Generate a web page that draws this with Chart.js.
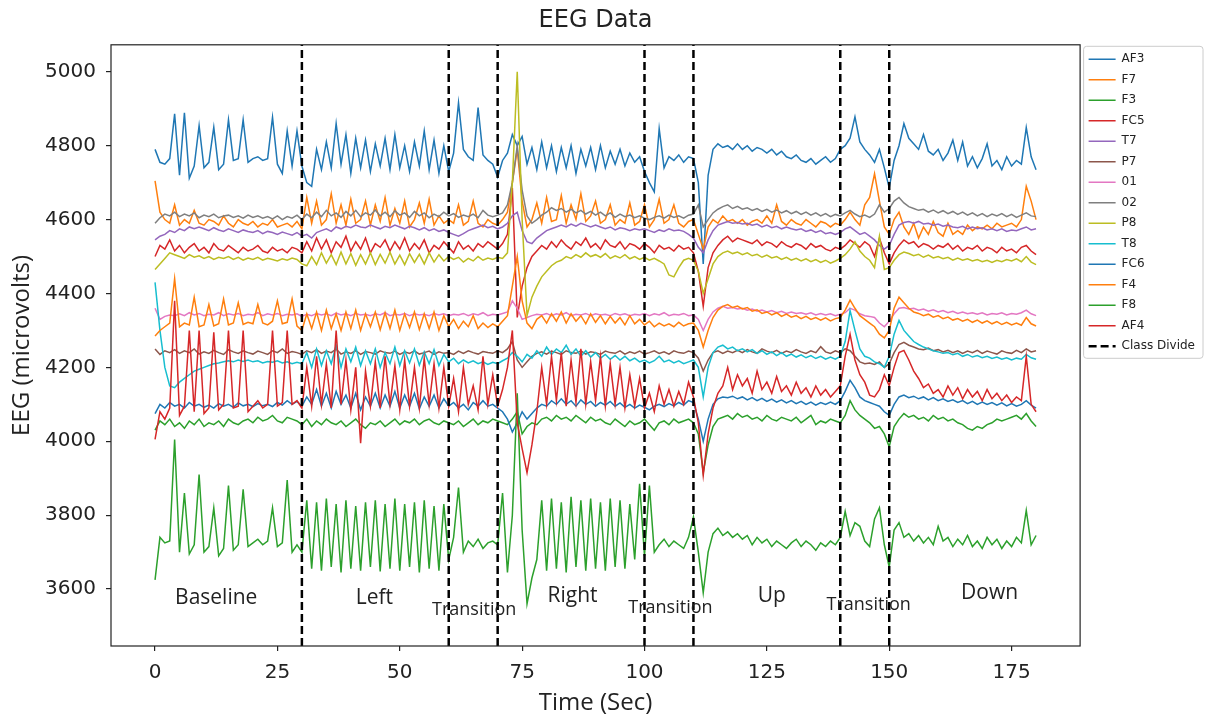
<!DOCTYPE html>
<html>
<head>
<meta charset="utf-8">
<title>EEG Data</title>
<script src="https://cdn.jsdelivr.net/npm/chart.js@4.4.1/dist/chart.umd.min.js"></script>
<style>
  html, body { margin: 0; padding: 0; background: #fff; }
  #wrap { width: 1215px; height: 719px; }
</style>
</head>
<body>
<div id="wrap"><canvas id="eegChart" width="1215" height="719"></canvas></div>
<script>
// channels in legend order
const channels = ['AF3', 'F7', 'F3', 'FC5', 'T7', 'P7', '01', '02', 'P8', 'T8', 'FC6', 'F4', 'F8', 'AF4'];
const channelColors = ['#1f77b4', '#ff7f0e', '#2ca02c', '#d62728', '#9467bd', '#8c564b', '#e377c2',
                       '#7f7f7f', '#bcbd22', '#17becf', '#1f77b4', '#ff7f0e', '#2ca02c', '#d62728'];

// one reading per second, 0..180 s
const seconds = Array.from({ length: 181 }, (_, i) => i);

const af3 = [
  4790,4755,4750,4765,4886,4720,4889,4712,4745,4854,
  4740,4755,4850,4735,4750,4870,4760,4765,4870,4755,
  4765,4770,4760,4765,4877,4750,4725,4840,4745,4840,
  4745,4700,4690,4790,4735,4810,4740,4860,4750,4830,
  4725,4820,4740,4815,4730,4805,4745,4820,4735,4830,
  4740,4800,4730,4810,4745,4840,4735,4815,4725,4800,
  4730,4780,4916,4790,4770,4760,4903,4775,4760,4750,
  4715,4760,4780,4830,4800,4825,4750,4795,4735,4810,
  4740,4800,4730,4795,4740,4800,4725,4790,4745,4795,
  4735,4800,4740,4785,4750,4790,4745,4780,4755,4770,
  4730,4700,4675,4846,4740,4770,4760,4775,4755,4770,
  4765,4700,4480,4720,4790,4805,4795,4800,4790,4805,
  4790,4800,4785,4795,4790,4780,4790,4775,4785,4770,
  4765,4775,4760,4755,4765,4750,4760,4770,4755,4765,
  4790,4800,4820,4878,4810,4790,4775,4755,4790,4740,
  4686,4760,4800,4860,4820,4805,4790,4830,4785,4775,
  4790,4760,4780,4815,4760,4810,4745,4770,4740,4765,
  4805,4745,4760,4735,4770,4745,4760,4750,4849,4770,
  4735
];
const f7 = [
  4705,4620,4600,4590,4640,4585,4600,4590,4625,4590,
  4585,4600,4595,4585,4610,4590,4580,4600,4590,4585,
  4595,4580,4590,4585,4600,4580,4585,4590,4580,4595,
  4575,4660,4590,4650,4585,4600,4670,4590,4640,4585,
  4655,4590,4600,4650,4585,4640,4595,4660,4585,4630,
  4590,4650,4580,4600,4645,4590,4655,4585,4610,4590,
  4600,4590,4640,4585,4595,4650,4590,4580,4600,4590,
  4585,4600,4620,4700,4790,4650,4580,4600,4645,4590,
  4660,4595,4600,4665,4590,4640,4600,4670,4595,4610,
  4650,4590,4600,4640,4585,4600,4590,4645,4585,4595,
  4640,4580,4600,4655,4590,4600,4640,4590,4580,4595,
  4600,4560,4520,4580,4600,4590,4610,4595,4600,4590,
  4600,4585,4595,4600,4590,4610,4590,4640,4595,4585,
  4600,4590,4585,4600,4590,4580,4595,4590,4580,4590,
  4585,4600,4620,4600,4585,4640,4660,4724,4650,4580,
  4560,4600,4620,4580,4560,4590,4550,4580,4560,4595,
  4565,4555,4590,4560,4570,4560,4585,4570,4580,4575,
  4585,4575,4590,4580,4585,4590,4580,4600,4690,4650,
  4600
];
const f3 = [
  4030,4055,4045,4060,4040,4050,4035,4055,4045,4060,
  4040,4050,4045,4055,4040,4060,4050,4045,4055,4060,
  4050,4065,4055,4060,4070,4055,4050,4065,4060,4055,
  4045,4060,4040,4055,4045,4060,4050,4045,4055,4040,
  4050,4060,4045,4035,4050,4045,4055,4040,4050,4060,
  4045,4055,4050,4060,4045,4055,4060,4050,4045,4055,
  4050,4045,4055,4040,4050,4060,4045,4055,4050,4060,
  4055,4050,4045,4060,4080,4020,4040,4050,4045,4060,
  4065,4055,4070,4060,4065,4055,4070,4060,4050,4065,
  4055,4060,4050,4045,4060,4050,4040,4055,4045,4050,
  4060,4045,4030,4050,4055,4045,4060,4050,4055,4060,
  4050,4020,3915,3990,4040,4060,4065,4070,4060,4075,
  4065,4070,4060,4065,4055,4070,4060,4055,4065,4060,
  4055,4065,4050,4060,4070,4045,4055,4050,4060,4055,
  4050,4070,4110,4085,4070,4060,4050,4035,4040,4020,
  3985,4040,4060,4075,4065,4070,4060,4065,4055,4070,
  4060,4065,4055,4060,4050,4045,4035,4030,4040,4035,
  4045,4050,4060,4055,4060,4065,4070,4060,4075,4055,
  4040
];
const fc5 = [
  4500,4530,4520,4545,4515,4530,4510,4525,4535,4515,
  4525,4510,4535,4520,4515,4530,4520,4510,4525,4515,
  4520,4530,4515,4510,4525,4515,4520,4510,4525,4520,
  4510,4540,4515,4550,4520,4545,4510,4540,4525,4555,
  4515,4540,4520,4550,4510,4535,4525,4545,4515,4540,
  4520,4550,4515,4535,4520,4545,4510,4530,4520,4540,
  4525,4510,4540,4520,4530,4515,4535,4525,4540,4530,
  4520,4535,4560,4686,4335,4420,4470,4500,4515,4530,
  4520,4540,4525,4545,4530,4520,4540,4530,4550,4525,
  4535,4520,4545,4530,4525,4540,4520,4535,4530,4520,
  4535,4525,4510,4530,4520,4525,4515,4530,4520,4525,
  4510,4460,4365,4470,4510,4530,4545,4555,4540,4550,
  4545,4540,4535,4545,4530,4540,4535,4525,4540,4530,
  4525,4535,4530,4520,4535,4525,4530,4520,4515,4525,
  4520,4530,4545,4535,4525,4540,4530,4500,4550,4510,
  4480,4510,4530,4545,4535,4540,4525,4535,4530,4520,
  4530,4525,4535,4520,4530,4515,4525,4520,4530,4515,
  4525,4520,4510,4525,4515,4520,4510,4525,4530,4515,
  4505
];
const t7 = [
  4545,4555,4560,4570,4565,4575,4570,4580,4575,4580,
  4575,4570,4578,4572,4568,4575,4570,4565,4572,4568,
  4565,4570,4562,4568,4565,4560,4566,4562,4558,4565,
  4555,4560,4550,4565,4570,4575,4568,4580,4575,4582,
  4578,4585,4580,4578,4585,4580,4575,4582,4578,4585,
  4580,4575,4582,4578,4572,4578,4570,4575,4568,4572,
  4565,4560,4555,4562,4570,4575,4580,4585,4578,4582,
  4575,4580,4590,4610,4620,4570,4540,4535,4550,4560,
  4570,4575,4580,4585,4580,4588,4582,4590,4585,4580,
  4585,4580,4575,4580,4572,4578,4575,4570,4575,4572,
  4575,4570,4565,4572,4568,4575,4570,4572,4568,4560,
  4550,4525,4510,4545,4570,4585,4590,4595,4590,4592,
  4588,4590,4585,4588,4580,4585,4578,4582,4575,4580,
  4575,4572,4575,4568,4572,4565,4570,4562,4565,4560,
  4565,4575,4580,4570,4560,4565,4555,4545,4530,4520,
  4530,4560,4585,4592,4595,4590,4595,4588,4590,4585,
  4588,4582,4585,4580,4578,4582,4575,4580,4575,4578,
  4572,4575,4570,4575,4568,4572,4570,4575,4580,4572,
  4575
];
const p7 = [
  4250,4235,4245,4240,4248,4238,4245,4240,4250,4236,
  4242,4238,4246,4240,4235,4248,4242,4238,4245,4240,
  4236,4244,4240,4235,4245,4240,4250,4238,4243,4240,
  4235,4245,4240,4248,4238,4244,4240,4250,4236,4242,
  4238,4245,4235,4243,4240,4236,4245,4240,4238,4244,
  4235,4242,4238,4245,4236,4240,4244,4235,4242,4238,
  4240,4235,4244,4238,4245,4240,4236,4243,4240,4238,
  4245,4240,4250,4270,4220,4200,4215,4230,4238,4242,
  4236,4244,4240,4235,4245,4240,4238,4245,4236,4242,
  4240,4235,4244,4240,4238,4245,4236,4242,4238,4244,
  4236,4240,4245,4238,4242,4236,4245,4240,4238,4244,
  4240,4225,4190,4220,4240,4245,4238,4244,4240,4246,
  4240,4248,4242,4238,4250,4244,4240,4246,4238,4244,
  4240,4248,4242,4238,4245,4240,4256,4242,4238,4245,
  4240,4250,4245,4230,4215,4210,4212,4208,4215,4200,
  4210,4240,4262,4268,4260,4255,4250,4248,4252,4245,
  4248,4242,4246,4240,4245,4238,4244,4240,4246,4238,
  4244,4240,4236,4245,4240,4238,4246,4240,4250,4242,
  4245
];
const o1 = [
  4360,4330,4338,4342,4340,4345,4340,4348,4342,4346,
  4340,4344,4342,4348,4340,4345,4342,4346,4340,4344,
  4342,4348,4340,4345,4342,4346,4340,4344,4342,4345,
  4338,4344,4340,4346,4342,4345,4340,4347,4342,4345,
  4340,4346,4342,4344,4340,4345,4342,4348,4340,4344,
  4342,4346,4340,4345,4342,4344,4340,4346,4342,4345,
  4340,4344,4342,4346,4340,4345,4342,4348,4340,4344,
  4342,4346,4350,4380,4360,4330,4335,4340,4344,4342,
  4346,4340,4345,4342,4348,4340,4344,4342,4346,4340,
  4345,4342,4344,4340,4346,4342,4345,4340,4344,4342,
  4346,4340,4345,4342,4348,4340,4344,4342,4346,4340,
  4342,4330,4300,4330,4350,4360,4365,4360,4362,4358,
  4360,4355,4358,4352,4355,4350,4354,4348,4352,4346,
  4350,4346,4348,4344,4348,4342,4346,4342,4345,4340,
  4344,4348,4360,4355,4345,4340,4338,4335,4320,4310,
  4325,4345,4360,4362,4358,4360,4355,4358,4352,4356,
  4350,4354,4348,4352,4346,4350,4345,4348,4344,4348,
  4342,4346,4344,4348,4342,4346,4344,4348,4355,4345,
  4340
];
const o2 = [
  4590,4605,4615,4610,4620,4608,4615,4610,4618,4605,
  4612,4608,4615,4605,4610,4612,4606,4610,4604,4612,
  4606,4610,4604,4608,4602,4610,4600,4608,4604,4612,
  4600,4615,4605,4620,4608,4625,4610,4618,4606,4622,
  4610,4625,4608,4618,4612,4626,4610,4620,4608,4624,
  4612,4618,4606,4622,4610,4618,4605,4615,4608,4620,
  4610,4616,4606,4612,4608,4615,4605,4625,4612,4608,
  4612,4618,4640,4700,4800,4680,4610,4590,4600,4612,
  4620,4632,4625,4630,4620,4628,4618,4625,4615,4622,
  4612,4620,4610,4618,4606,4615,4608,4612,4605,4610,
  4604,4600,4606,4610,4604,4612,4606,4610,4604,4612,
  4615,4640,4580,4600,4618,4628,4635,4640,4630,4636,
  4628,4632,4625,4630,4622,4628,4620,4626,4618,4624,
  4616,4622,4614,4620,4612,4618,4610,4616,4608,4614,
  4610,4618,4625,4615,4608,4612,4606,4615,4640,4620,
  4630,4650,4660,4645,4635,4630,4625,4628,4620,4626,
  4618,4624,4616,4622,4614,4620,4612,4618,4610,4616,
  4608,4615,4610,4616,4608,4614,4606,4612,4618,4610,
  4608
];
const p8 = [
  4465,4480,4495,4510,4505,4500,4495,4505,4498,4502,
  4495,4500,4492,4498,4495,4500,4492,4498,4490,4496,
  4492,4498,4490,4495,4492,4488,4494,4490,4496,4492,
  4480,4475,4500,4478,4510,4482,4505,4478,4512,4480,
  4508,4476,4505,4480,4510,4478,4506,4482,4512,4480,
  4504,4478,4508,4484,4506,4480,4510,4485,4505,4488,
  4500,4492,4498,4485,4495,4488,4500,4490,4496,4492,
  4498,4495,4510,4700,5000,4600,4340,4390,4420,4445,
  4460,4475,4485,4490,4500,4495,4505,4498,4510,4500,
  4505,4498,4508,4495,4502,4496,4505,4494,4500,4492,
  4498,4490,4495,4488,4480,4450,4445,4470,4490,4495,
  4490,4460,4400,4440,4480,4500,4510,4515,4508,4512,
  4505,4510,4502,4506,4498,4504,4496,4500,4492,4498,
  4490,4495,4488,4494,4486,4492,4484,4490,4482,4488,
  4495,4505,4520,4540,4515,4500,4490,4470,4555,4465,
  4470,4490,4505,4512,4508,4502,4506,4498,4504,4496,
  4500,4494,4498,4490,4496,4490,4494,4488,4492,4486,
  4490,4484,4490,4486,4492,4488,4494,4486,4500,4485,
  4478
];
const t8 = [
  4430,4300,4200,4150,4145,4160,4170,4180,4190,4195,
  4200,4205,4210,4212,4215,4218,4215,4220,4216,4220,
  4215,4218,4212,4216,4214,4218,4212,4215,4210,4214,
  4210,4240,4200,4250,4205,4245,4210,4260,4200,4250,
  4215,4255,4205,4245,4210,4250,4200,4240,4210,4255,
  4205,4245,4212,4250,4206,4242,4210,4248,4205,4235,
  4215,4225,4210,4220,4212,4218,4210,4215,4208,4214,
  4210,4218,4225,4240,4230,4215,4235,4225,4245,4230,
  4255,4235,4250,4240,4260,4235,4250,4230,4245,4228,
  4240,4225,4235,4222,4232,4220,4230,4218,4225,4215,
  4220,4212,4218,4230,4215,4220,4212,4218,4210,4215,
  4220,4200,4120,4200,4240,4255,4260,4250,4255,4245,
  4250,4242,4248,4238,4245,4235,4242,4232,4240,4230,
  4236,4228,4234,4226,4232,4224,4230,4222,4228,4222,
  4230,4270,4354,4300,4250,4230,4225,4215,4210,4200,
  4230,4290,4327,4300,4285,4270,4262,4255,4250,4245,
  4242,4238,4240,4234,4238,4230,4235,4228,4232,4226,
  4230,4224,4228,4222,4226,4220,4225,4222,4235,4226,
  4222
];
const fc6 = [
  4075,4100,4090,4105,4095,4100,4090,4105,4095,4100,
  4092,4098,4090,4102,4095,4100,4092,4104,4096,4100,
  4094,4102,4096,4100,4094,4105,4098,4110,4100,4108,
  4095,4120,4100,4140,4095,4130,4090,4135,4100,4125,
  4090,4130,4085,4120,4095,4130,4090,4125,4095,4135,
  4090,4125,4095,4130,4088,4120,4095,4125,4090,4115,
  4095,4105,4090,4100,4085,4105,4095,4110,4095,4100,
  4090,4080,4060,4025,4050,4080,4060,4075,4090,4100,
  4095,4110,4100,4115,4100,4110,4095,4112,4100,4108,
  4095,4105,4098,4108,4095,4104,4092,4100,4090,4098,
  4092,4085,4095,4100,4094,4102,4096,4105,4098,4110,
  4105,4060,4000,4060,4100,4115,4120,4118,4122,4115,
  4120,4112,4118,4110,4116,4108,4114,4106,4112,4104,
  4110,4102,4108,4100,4106,4098,4105,4100,4106,4100,
  4110,4135,4165,4145,4120,4110,4105,4100,4095,4080,
  4070,4100,4120,4125,4118,4122,4115,4120,4112,4118,
  4110,4115,4108,4112,4105,4110,4102,4108,4100,4106,
  4100,4105,4098,4104,4096,4102,4095,4100,4110,4098,
  4090
];
const f4 = [
  4285,4300,4310,4320,4440,4310,4320,4315,4390,4310,
  4315,4370,4312,4318,4385,4315,4320,4375,4316,4322,
  4318,4370,4320,4315,4325,4380,4318,4322,4385,4312,
  4300,4345,4305,4350,4300,4355,4305,4345,4300,4350,
  4305,4355,4300,4345,4310,4350,4302,4348,4305,4355,
  4300,4345,4308,4350,4302,4345,4305,4350,4300,4340,
  4310,4330,4305,4325,4310,4340,4305,4320,4308,4318,
  4310,4325,4340,4420,4500,4380,4320,4305,4330,4340,
  4320,4345,4325,4350,4320,4345,4325,4340,4318,4345,
  4322,4340,4318,4338,4320,4335,4315,4340,4318,4330,
  4315,4325,4310,4320,4312,4318,4310,4322,4312,4318,
  4320,4300,4255,4300,4335,4355,4365,4370,4362,4366,
  4358,4362,4352,4356,4346,4350,4342,4348,4338,4344,
  4336,4340,4332,4338,4330,4335,4328,4334,4326,4332,
  4335,4355,4382,4360,4340,4330,4320,4310,4290,4280,
  4300,4360,4390,4375,4360,4350,4346,4340,4344,4336,
  4340,4332,4336,4328,4332,4325,4330,4322,4328,4320,
  4326,4318,4324,4316,4322,4315,4320,4314,4335,4318,
  4312
];
const f8 = [
  3625,3740,3725,3730,4005,3700,3860,3695,3720,3910,
  3700,3715,3820,3690,3710,3880,3705,3720,3870,3715,
  3725,3735,3720,3730,3820,3715,3725,3895,3700,3720,
  3700,3840,3655,3835,3650,3845,3660,3830,3645,3840,
  3655,3825,3650,3835,3660,3840,3648,3830,3655,3845,
  3650,3830,3660,3835,3645,3840,3655,3825,3650,3830,
  3680,3740,3875,3700,3730,3715,3735,3710,3725,3730,
  3720,3860,3645,3800,4130,3760,3560,3630,3680,3840,
  3650,3845,3655,3835,3645,3850,3660,3840,3650,3845,
  3655,3835,3650,3845,3660,3840,3655,3830,3680,3885,
  3690,3880,3700,3720,3735,3715,3730,3720,3710,3740,
  3795,3700,3590,3700,3750,3765,3745,3755,3740,3750,
  3735,3745,3720,3740,3725,3735,3715,3730,3720,3710,
  3725,3735,3715,3730,3720,3705,3725,3715,3730,3720,
  3740,3810,3745,3780,3770,3730,3715,3790,3820,3720,
  3660,3760,3780,3740,3750,3730,3745,3725,3740,3720,
  3770,3730,3740,3715,3735,3720,3745,3715,3730,3710,
  3740,3720,3735,3710,3730,3715,3740,3725,3813,3720,
  3745
];
const af4 = [
  4005,4080,4060,4090,4380,4070,4095,4300,4080,4300,
  4075,4090,4295,4085,4100,4300,4090,4095,4300,4080,
  4095,4110,4090,4100,4300,4095,4105,4300,4100,4110,
  4090,4200,4095,4230,4100,4210,4090,4300,4100,4220,
  4085,4200,3995,4190,4095,4215,4090,4230,4100,4205,
  4085,4220,4095,4200,4090,4225,4100,4210,4090,4200,
  4095,4170,4080,4200,4100,4150,4085,4230,4100,4180,
  4095,4140,4200,4300,4050,3980,3915,3990,4080,4200,
  4100,4230,4110,4240,4095,4220,4105,4250,4100,4215,
  4110,4230,4095,4210,4100,4200,4090,4180,4095,4170,
  4090,4130,4080,4150,4100,4140,4095,4135,4100,4160,
  4120,4050,3908,4020,4090,4130,4150,4200,4140,4180,
  4150,4170,4130,4190,4140,4160,4130,4175,4135,4150,
  4125,4160,4130,4145,4120,4150,4125,4140,4120,4135,
  4150,4230,4290,4220,4180,4160,4125,4120,4140,4180,
  4150,4200,4240,4246,4220,4190,4170,4145,4155,4130,
  4140,4120,4150,4125,4145,4115,4140,4120,4135,4110,
  4140,4115,4130,4110,4125,4105,4120,4110,4230,4100,
  4080
];

// class boundaries and phase names
const classDivides = [30, 60, 70, 100, 110, 140, 150];
const phaseNames = ['Baseline', 'Left', 'Transition', 'Right', 'Transition', 'Up', 'Transition', 'Down'];
const phaseTimes = [12.5, 44.8, 65.2, 85.3, 105.3, 126, 145.8, 170.5];
const phaseLevels = [3576, 3576, 3543, 3581, 3549, 3581, 3557, 3589];

const xTicks = [0, 25, 50, 75, 100, 125, 150, 175];
const yTicks = [3600, 3800, 4000, 4200, 4400, 4600, 4800, 5000];
const xLimits = [-9, 189];
const yLimits = [3446, 5073];

const series = [af3, f7, f3, fc5, t7, p7, o1, o2, p8, t8, fc6, f4, f8, af4];

const lineWidth = 1.5;
const divideWidth = 2.5;
const divideDash = [8, 4];

const datasets = channels.map((name, i) => ({
    label: name,
    data: seconds.map((t, k) => ({ x: t, y: series[i][k] })),
    borderColor: channelColors[i],
    backgroundColor: channelColors[i],
    borderWidth: lineWidth,
    pointRadius: 0,
    tension: 0,
    order: channels.length + 1 - i   // later channels on top, like pyplot
}));

// dashed class dividers, one broken line running the full y range
datasets.push({
    label: 'Class Divide',
    data: classDivides.flatMap(v => [{ x: v, y: yLimits[0] }, { x: v, y: yLimits[1] }, { x: v, y: null }]),
    borderColor: '#000',
    backgroundColor: '#000',
    borderWidth: divideWidth,
    borderDash: divideDash,
    pointRadius: 0,
    spanGaps: false,
    order: 0
});

const framePlugin = {
    id: 'frame',
    afterDatasetsDraw(chart) {
        const { ctx, chartArea: a, scales } = chart;
        ctx.save();
        // phase captions
        ctx.fillStyle = '#222';
        ctx.textAlign = 'center';
        ctx.textBaseline = 'middle';
        phaseNames.forEach((name, i) => {
            const size = name === 'Transition' ? 18 : 21;
            ctx.font = size + 'px "Open Sans"';
            ctx.fillText(name, scales.x.getPixelForValue(phaseTimes[i]), scales.y.getPixelForValue(phaseLevels[i]));
        });
        // axes box
        ctx.strokeStyle = '#222';
        ctx.lineWidth = 1.2;
        ctx.strokeRect(a.left, a.top, a.right - a.left, a.bottom - a.top);
        ctx.restore();
    },
    afterDraw(chart) {
        const lg = chart.legend;
        if (!lg || !lg.legendHitBoxes.length) return;
        const boxes = lg.legendHitBoxes;
        const first = boxes[0];
        const last = boxes[boxes.length - 1];
        const ctx = chart.ctx;
        ctx.save();
        ctx.strokeStyle = '#cccccc';
        ctx.lineWidth = 1;
        ctx.beginPath();
        const x0 = first.left - 5;
        const y0 = first.top - 7;
        ctx.roundRect(x0, y0, lg.right - 2 - x0, last.top + last.height + 6 - y0, 3);
        ctx.stroke();
        ctx.restore();
    }
};

new Chart(document.getElementById('eegChart'), {
    type: 'line',
    data: { datasets },
    plugins: [framePlugin],
    options: {
        responsive: false,
        animation: false,
        events: [],
        layout: { padding: { left: 0, right: 10, top: 0, bottom: 0 } },
        scales: {
            x: {
                type: 'linear',
                min: xLimits[0],
                max: xLimits[1],
                afterBuildTicks: s => { s.ticks = xTicks.map(v => ({ value: v })); },
                afterFit: s => { s.height = 73; },
                border: { display: false },
                grid: { drawOnChartArea: false, drawTicks: true, tickLength: 5, color: '#222', lineWidth: 1.2 },
                ticks: { autoSkip: false, maxRotation: 0, padding: 10, color: '#222',
                         font: { family: 'DejaVu Sans', size: 20 }, callback: v => String(v) },
                title: { display: true, text: 'Time (Sec)', color: '#222', padding: { top: 0, bottom: 1 },
                         font: { family: 'Open Sans', size: 24 } }
            },
            y: {
                type: 'linear',
                min: yLimits[0],
                max: yLimits[1],
                afterBuildTicks: s => { s.ticks = yTicks.map(v => ({ value: v })); },
                afterFit: s => { s.width = 111; },
                border: { display: false },
                grid: { drawOnChartArea: false, drawTicks: true, tickLength: 5, color: '#222', lineWidth: 1.2 },
                ticks: { autoSkip: false, padding: 10, color: '#222',
                         font: { family: 'DejaVu Sans', size: 20 }, callback: v => String(v) },
                title: { display: true, text: 'EEG (microvolts)', color: '#222', padding: { top: 8, bottom: 0 },
                         font: { family: 'Open Sans', size: 24 } }
            }
        },
        plugins: {
            title: {
                display: true,
                text: 'EEG Data',
                fullSize: false,
                color: '#222',
                padding: { top: 6, bottom: 10 },
                font: { family: 'DejaVu Sans', size: 24, weight: 'normal' }
            },
            legend: {
                position: 'right',
                align: 'start',
                fullSize: false,
                labels: {
                    usePointStyle: true,
                    pointStyle: 'line',
                    pointStyleWidth: 27,
                    padding: 8.5,
                    color: '#222',
                    font: { family: 'DejaVu Sans', size: 12 },
                    sort: (a, b) => a.datasetIndex - b.datasetIndex,
                    generateLabels: chart => {
                        const items = Chart.defaults.plugins.legend.labels.generateLabels(chart);
                        items.forEach(item => {
                            const ds = chart.data.datasets[item.datasetIndex];
                            item.lineWidth = ds.borderWidth;
                            item.lineDash = ds.borderDash || [];
                            item.strokeStyle = ds.borderColor;
                        });
                        return items;
                    }
                }
            },
            tooltip: { enabled: false }
        }
    }
});
</script>
</body>
</html>
